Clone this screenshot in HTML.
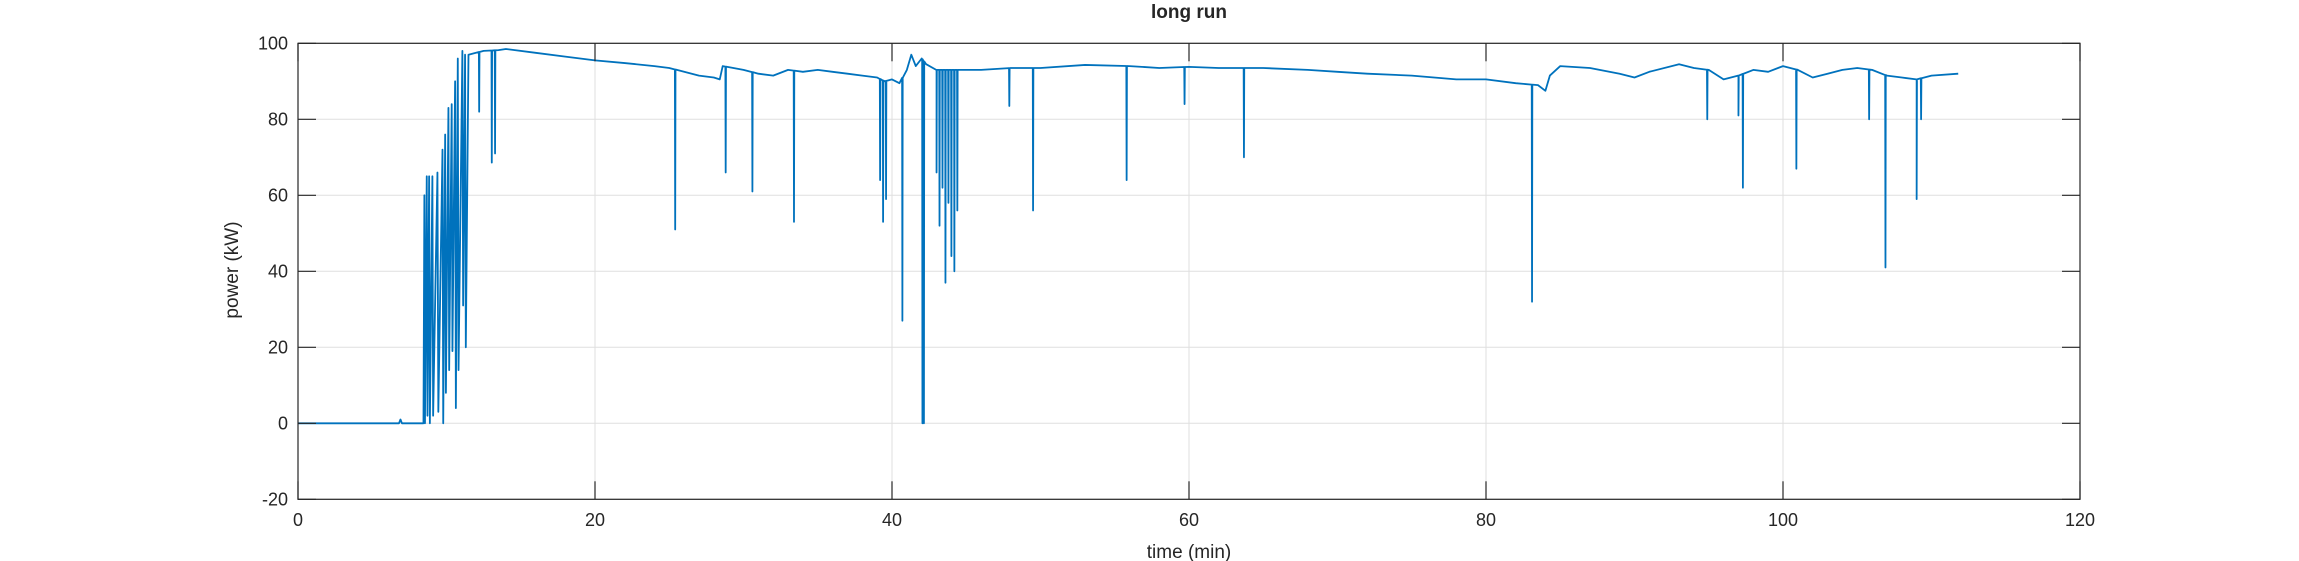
<!DOCTYPE html>
<html><head><meta charset="utf-8"><style>
html,body{margin:0;padding:0;background:#fff;width:2299px;height:561px;overflow:hidden}
svg text{font-family:"Liberation Sans",sans-serif;fill:#262626}
</style></head><body>
<svg id="chart" width="2299" height="561" xmlns="http://www.w3.org/2000/svg">
<text x="1189" y="18" text-anchor="middle" font-size="19" font-weight="bold" fill="#000">long run</text>
<g id="grid"></g>
<g id="series"></g>
<g id="axes"></g>
<text x="1189" y="558" text-anchor="middle" font-size="19">time (min)</text>
<text transform="translate(238,270) rotate(-90)" text-anchor="middle" font-size="19">power (kW)</text>
</svg>
<script>
const xTicks=[0,20,40,60,80,100,120];
const yTicks=[-20,0,20,40,60,80,100];
const baseT=[0,6.8,6.9,7.0,8.45,11.5,12.5,13.5,14,16,18,20,22,24,25,26,27,28,28.4,28.6,30,31,32,33,34,35,36,37,38,39,39.5,40,40.5,41,41.3,41.6,42,42.3,43,44.5,46,48,50,53,56,58,60,62,65,68,70,72,75,78,80,82,83.5,84,84.3,85,87,89,90,91,93,94,95,96,97,98,99,100,101,102,103,104,105,106,107,108,109,110,111.8];
const baseV=[0,0,1,0,0,97,98,98.2,98.5,97.5,96.5,95.5,94.8,94,93.5,92.5,91.5,91,90.5,94,93,92,91.5,93,92.5,93,92.5,92,91.5,91,90,90.5,89.5,93,97,94,96,94.5,93,93,93,93.5,93.5,94.3,94,93.5,93.8,93.5,93.5,93,92.5,92,91.5,90.5,90.5,89.5,89,87.5,91.5,94,93.5,92,91,92.5,94.5,93.5,93,90.5,91.5,93,92.5,94,93,91,92,93,93.5,93,91.5,91,90.5,91.5,92];
const rampT=[8.45,8.51,8.55,8.67,8.72,8.83,8.88,9.05,9.1,9.39,9.45,9.73,9.78,9.91,9.96,10.13,10.18,10.35,10.4,10.58,10.63,10.76,10.81,11.07,11.12,11.25,11.3,11.48];
const rampV=[0,60,0,65,2,65,0,65,2,66,3,72,0,76,8,83,14,84,19,90,4,96,14,98,31,97,20,97];
const spikeT=[12.2,13.05,13.27,25.4,28.8,30.6,33.4,39.2,39.4,39.6,40.7,42.05,42.15,43.0,43.2,43.4,43.6,43.8,44.0,44.2,44.4,47.9,49.5,55.8,59.7,63.7,83.1,94.9,97.0,97.3,100.9,105.8,106.9,109.0,109.3];
const spikeV=[82,68.6,71,51,66,61,53,64,53,59,27,0,0,66,52,62,37,58,44,40,56,83.5,56,64,84,70,32,80,81,62,67,80,41,59,80];
const X0=298,X1=2080,Y0=499.3,Y1=43.3;
const xs=t=>X0+(t-0)/(120-0)*(X1-X0);
const ys=v=>Y0-(v-(-20))/(100-(-20))*(Y0-Y1);
const NS="http://www.w3.org/2000/svg";
function mk(tag,attrs,parent){const e=document.createElementNS(NS,tag);for(const k in attrs)e.setAttribute(k,attrs[k]);parent.appendChild(e);return e;}
const grid=document.getElementById('grid'),axes=document.getElementById('axes'),series=document.getElementById('series');
xTicks.forEach(t=>{
 const x=xs(t);
 const g=mk('line',{x1:x,x2:x,y1:Y1,y2:Y0,stroke:'#dfdfdf','stroke-width':1},grid);
 
 
 [[Y0,Y0-18],[Y1,Y1+18]].forEach(p=>{const l=mk('line',{x1:x,x2:x,y1:p[0],y2:p[1],stroke:'#262626','stroke-width':1.2},axes);
 
 });
 const tx=mk('text',{x:x,y:526,'text-anchor':'middle','font-size':18},axes);tx.textContent=t;
 
 
});
yTicks.forEach(v=>{
 const y=ys(v);
 const g=mk('line',{x1:X0,x2:X1,y1:y,y2:y,stroke:'#dfdfdf','stroke-width':1},grid);
 
 
 [[X0,X0+18],[X1,X1-18]].forEach(p=>{const l=mk('line',{x1:p[0],x2:p[1],y1:y,y2:y,stroke:'#262626','stroke-width':1.2},axes);
 
 });
 const tx=mk('text',{x:X0-10,y:y+6,'text-anchor':'end','font-size':18},axes);tx.textContent=v;
 
 
});
const box=mk('rect',{x:X0,y:Y1,width:X1-X0,height:Y0-Y1,fill:'none',stroke:'#262626','stroke-width':1.2},axes);


function baseAt(t){for(let i=0;i<baseT.length-1;i++){if(t>=baseT[i]&&t<=baseT[i+1]){const f=(t-baseT[i])/(baseT[i+1]-baseT[i]);return baseV[i]+f*(baseV[i+1]-baseV[i]);}}return baseV[baseV.length-1];}
let pts=[];
baseT.forEach((t,i)=>{if(t<8.45||t>11.5)pts.push([t,baseV[i]]);});
rampT.forEach((t,i)=>pts.push([t,rampV[i]]));
spikeT.forEach((t,i)=>{const b=baseAt(t);pts.push([t-0.02,b]);pts.push([t,spikeV[i]]);pts.push([t+0.02,b]);});
pts.sort((a,b)=>a[0]-b[0]);
const d=pts.map((p,i)=>(i?'L':'M')+xs(p[0]).toFixed(2)+' '+ys(p[1]).toFixed(2)).join(' ');
const path=mk('path',{d:d,fill:'none',stroke:'#0072BD','stroke-width':1.8,'stroke-linejoin':'round'},series);


</script>
</body></html>
